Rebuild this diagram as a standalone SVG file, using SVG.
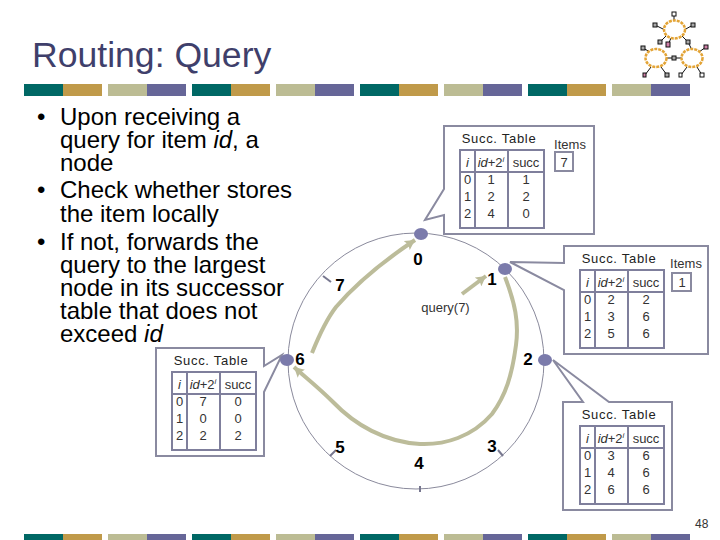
<svg xmlns="http://www.w3.org/2000/svg" width="720" height="540" viewBox="0 0 720 540">
<style>
text{font-family:"Liberation Sans",Arial,sans-serif;fill:#1a1a1a}
.title{font-size:35.6px;fill:#3f3f6b}
.body{font-size:24px;fill:#000}
.cell{font-size:13px;text-anchor:middle;fill:#333}
.cap{font-size:13px;text-anchor:middle;letter-spacing:.7px;fill:#222}
.num{font-size:17px;font-weight:bold;text-anchor:middle;fill:#000}
.box{fill:#fff;stroke:#8a8aa0;stroke-width:2}
.call{fill:#fff;stroke:#8a8aa0;stroke-width:2;stroke-linejoin:miter}
.grid{stroke:#7f7f9c;stroke-width:2;fill:none}
.node{fill:#7b7bab}
.tick{stroke:#77778f;stroke-width:2}
.ring{fill:none;stroke:#8a8a9c;stroke-width:1}
.arrow{fill:none;stroke:#bcbc9a;stroke-width:4}
.t{fill:#006865}.g{fill:#c09a4a}.k{fill:#bcbc94}.p{fill:#666698}
.o{fill:#fff;stroke:#e3a436;stroke-width:2.5;stroke-dasharray:3 1}
.w{stroke:#111;stroke-width:1;fill:none}
.s{stroke:#111;stroke-width:1;fill:#fff}.sg{stroke:#111;stroke-width:1;fill:#aaa}.sp{stroke:#111;stroke-width:1;fill:#d080a8}
</style>
<defs>
<marker id="ah" markerUnits="userSpaceOnUse" markerWidth="11" markerHeight="11" refX="10" refY="5.5" orient="auto"><path d="M0 0L10 5.5L0 11L2 5.5Z" fill="#bcbc9a"/></marker>
<g id="bars-a"><rect class="t" x="0" width="39" height="12"/><rect class="g" x="39" width="39" height="12"/><rect class="k" x="84" width="39" height="12"/><rect class="p" x="123" width="39" height="12"/></g>
<g id="grid"><rect class="grid" x="0" y="0" width="84" height="78"/><path class="grid" d="M0 22H84M15 0V78M48 0V78"/></g>
</defs>
<rect width="720" height="540" fill="#fff"/>
<text class="title" x="32" y="67">Routing: Query</text>
<g id="bars-top"><use href="#bars-a" x="24" y="84"/><use href="#bars-a" x="192" y="84"/><use href="#bars-a" x="360" y="84"/><use href="#bars-a" x="528" y="84"/></g>
<g id="bars-bottom"><use href="#bars-a" x="24" y="534"/><use href="#bars-a" x="192" y="534"/><use href="#bars-a" x="360" y="534"/><use href="#bars-a" x="528" y="534"/></g>
<g id="logo">
<path class="w" d="M674 14V24M655 25L665 30M693 25L684 30M668 45L671 38M660 42L666 36M688 42L682 36M688 42L692 50M643 48L650 52M706 47L699 52M645 75L651 67M667 75L661 67M681 75L687 67M702 75L697 67M664 58H684"/>
<ellipse class="o" cx="674.5" cy="29.5" rx="10.5" ry="9"/><ellipse class="o" cx="656" cy="58" rx="10.5" ry="9"/><ellipse class="o" cx="692" cy="58" rx="10.5" ry="9"/>
<rect class="s" x="672" y="12" width="4" height="4"/><rect class="sg" x="653" y="23" width="4" height="4"/><rect class="sg" x="691" y="23" width="4" height="4"/><rect class="sg" x="658" y="40" width="4" height="4"/><rect class="sp" x="666" y="42" width="4" height="5"/><rect class="sg" x="686" y="40" width="4" height="4"/><rect class="sg" x="641" y="46" width="4" height="4"/><rect class="sp" x="704" y="45" width="4" height="4"/><rect class="sg" x="672" y="56" width="4" height="4"/><rect class="sp" x="643" y="73" width="3" height="4"/><rect class="sg" x="665" y="73" width="4" height="4"/><rect class="s" x="679" y="73" width="3" height="4"/><rect class="s" x="700" y="73" width="4" height="4"/>
</g>
<g id="bullets">
<text class="body" x="37" y="125">•</text>
<text class="body" x="60" y="125">Upon receiving a</text>
<text class="body" x="60" y="148">query for item <tspan font-style="italic">id</tspan>, a</text>
<text class="body" x="60" y="171">node</text>
<text class="body" x="37" y="198">•</text>
<text class="body" x="60" y="198">Check whether stores</text>
<text class="body" x="60" y="222">the item locally</text>
<text class="body" x="37" y="250">•</text>
<text class="body" x="60" y="250">If not, forwards the</text>
<text class="body" x="60" y="273">query to the largest</text>
<text class="body" x="60" y="296">node in its successor</text>
<text class="body" x="60" y="319">table that does not</text>
<text class="body" x="60" y="342">exceed <tspan font-style="italic">id</tspan></text>
</g>
<g id="ring"><circle class="ring" cx="416" cy="361" r="128"/></g>
<g id="connectors">
<path class="arrow" marker-end="url(#ah)" d="M462 294L486 276"/>
<path class="arrow" marker-end="url(#ah)" d="M505 277C515 303 519 322 516 345C512 375 506 395 492 414C472 437 445 445 420 444C385 442 355 425 333 402C318 387 305 377 294 367"/>
<path class="arrow" marker-end="url(#ah)" d="M312 353C318 338 326 320 336 307C355 285 385 260 415 240"/>
</g>
<g id="node-0">
<path class="call" d="M444 126H594V234H444V215L425 220L444 189Z"/>
<ellipse class="node" cx="421" cy="234" rx="7" ry="6"/>
<text class="num" x="418" y="265">0</text>
<g transform="translate(460 150)">
<text class="cap" x="39" y="-7">Succ. Table</text><use href="#grid"/>
<text class="cell" x="7.5" y="17" font-style="italic">i</text><text class="cell" x="31" y="17"><tspan font-style="italic">id</tspan>+2<tspan font-size="8" dy="-5" font-style="italic">i</tspan></text><text class="cell" x="66" y="17">succ</text>
<text class="cell" x="7.5" y="34">0</text><text class="cell" x="31" y="34">1</text><text class="cell" x="66" y="34">1</text>
<text class="cell" x="7.5" y="51">1</text><text class="cell" x="31" y="51">2</text><text class="cell" x="66" y="51">2</text>
<text class="cell" x="7.5" y="68">2</text><text class="cell" x="31" y="68">4</text><text class="cell" x="66" y="68">0</text>
</g>
<text class="cell" x="570" y="149">Items</text><rect class="box" x="555" y="152" width="18" height="19"/><text class="cell" x="564" y="167">7</text>
</g>
<g id="node-1">
<path class="call" d="M564 246H708V354H564V290L510 262L564 263Z"/>
<ellipse class="node" cx="505" cy="269" rx="7" ry="6"/>
<text class="num" x="492" y="285">1</text>
<g transform="translate(580 270)">
<text class="cap" x="39" y="-7">Succ. Table</text><use href="#grid"/>
<text class="cell" x="7.5" y="17" font-style="italic">i</text><text class="cell" x="31" y="17"><tspan font-style="italic">id</tspan>+2<tspan font-size="8" dy="-5" font-style="italic">i</tspan></text><text class="cell" x="66" y="17">succ</text>
<text class="cell" x="7.5" y="34">0</text><text class="cell" x="31" y="34">2</text><text class="cell" x="66" y="34">2</text>
<text class="cell" x="7.5" y="51">1</text><text class="cell" x="31" y="51">3</text><text class="cell" x="66" y="51">6</text>
<text class="cell" x="7.5" y="68">2</text><text class="cell" x="31" y="68">5</text><text class="cell" x="66" y="68">6</text>
</g>
<text class="cell" x="686" y="268">Items</text><rect class="box" x="672" y="273" width="19" height="18"/><text class="cell" x="682" y="287">1</text>
</g>
<g id="node-2">
<path class="call" d="M563 402H583L553 360L609 402H672V510H563Z"/>
<ellipse class="node" cx="545" cy="360" rx="7" ry="6"/>
<text class="num" x="528" y="365">2</text>
<g transform="translate(580 426)">
<text class="cap" x="39" y="-7">Succ. Table</text><use href="#grid"/>
<text class="cell" x="7.5" y="17" font-style="italic">i</text><text class="cell" x="31" y="17"><tspan font-style="italic">id</tspan>+2<tspan font-size="8" dy="-5" font-style="italic">i</tspan></text><text class="cell" x="66" y="17">succ</text>
<text class="cell" x="7.5" y="34">0</text><text class="cell" x="31" y="34">3</text><text class="cell" x="66" y="34">6</text>
<text class="cell" x="7.5" y="51">1</text><text class="cell" x="31" y="51">4</text><text class="cell" x="66" y="51">6</text>
<text class="cell" x="7.5" y="68">2</text><text class="cell" x="31" y="68">6</text><text class="cell" x="66" y="68">6</text>
</g>
</g>
<g id="node-3"><path class="tick" d="M498 450L503 456"/><text class="num" x="492" y="452">3</text></g>
<g id="node-4"><path class="tick" d="M420 486V492"/><text class="num" x="419" y="469">4</text></g>
<g id="node-5"><path class="tick" d="M330 456L336 450"/><text class="num" x="340" y="453">5</text></g>
<g id="node-6">
<path class="call" d="M156 348H264V366L282 355L264 392V456H156Z"/>
<ellipse class="node" cx="287" cy="360" rx="7" ry="6"/>
<text class="num" x="300" y="365">6</text>
<g transform="translate(172 372)">
<text class="cap" x="39" y="-7">Succ. Table</text><use href="#grid"/>
<text class="cell" x="7.5" y="17" font-style="italic">i</text><text class="cell" x="31" y="17"><tspan font-style="italic">id</tspan>+2<tspan font-size="8" dy="-5" font-style="italic">i</tspan></text><text class="cell" x="66" y="17">succ</text>
<text class="cell" x="7.5" y="34">0</text><text class="cell" x="31" y="34">7</text><text class="cell" x="66" y="34">0</text>
<text class="cell" x="7.5" y="51">1</text><text class="cell" x="31" y="51">0</text><text class="cell" x="66" y="51">0</text>
<text class="cell" x="7.5" y="68">2</text><text class="cell" x="31" y="68">2</text><text class="cell" x="66" y="68">2</text>
</g>
</g>
<g id="node-7"><path class="tick" d="M323 276L331 282"/><text class="num" x="340" y="291">7</text></g>
<text class="cell" x="445.5" y="312">query(7)</text>
<text x="695" y="528" font-size="12" style="fill:#333">48</text>
</svg>
